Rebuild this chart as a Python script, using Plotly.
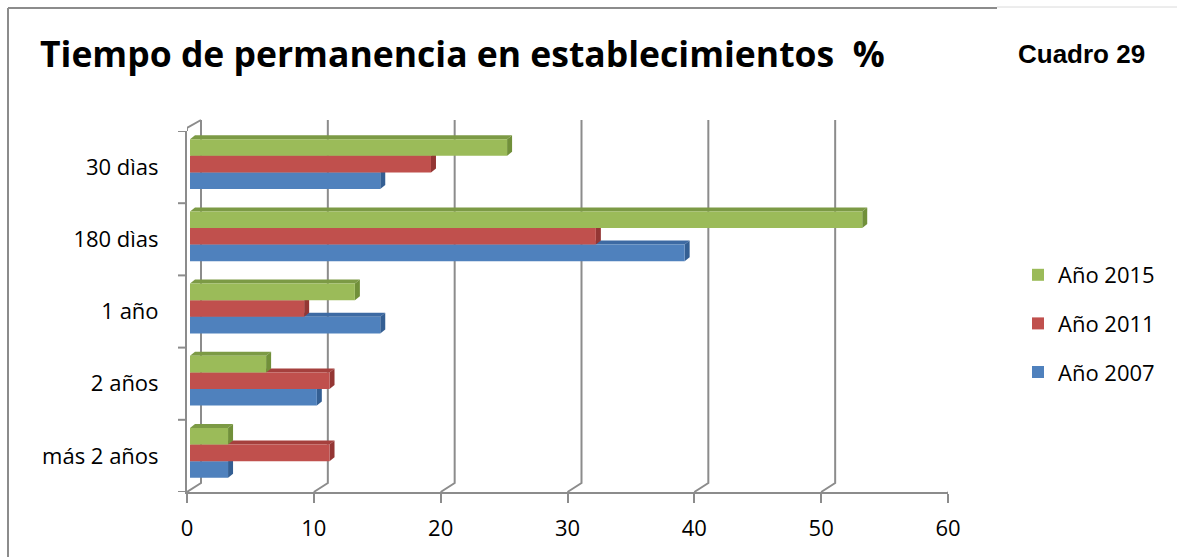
import plotly.graph_objects as go

categories = ["30 dìas", "180 dìas", "1 año", "2 años", "más 2 años"]
series_names = ["Año 2007", "Año 2011", "Año 2015"]
v2007 = [15, 39, 15, 10, 3]
v2011 = [19, 32, 9, 11, 11]
v2015 = [25, 53, 13, 6, 3]
x_ticks = [0, 10, 20, 30, 40, 50, 60]

colors = ["#4F81BD", "#C0504D", "#9BBB59"]
side_colors = ["#345F93", "#943634", "#71903A"]
top_colors = ["#3D6AA3", "#A5403D", "#7C9A45"]

W, H = 1177, 557
L, R, T, B = 187, 948, 131, 492
XMAX = 60
px_per_unit = (R - L) / XMAX
ncat = len(categories)
px_per_cat = (B - T) / ncat


def pxx(p):
    return (p - L) / (R - L)


def pxy(p):
    return (B - p) / (B - T)


order = list(reversed(categories))  # bottom to top
pos = {c: order.index(c) for c in categories}

bargap = 0.31
bw = (1 - bargap) / 3
lift = 3 / px_per_cat      # bars sit slightly back in depth
shift = 3 / px_per_unit

fig = go.Figure()
series = [v2007, v2011, v2015]
for j, (name, vals) in enumerate(zip(series_names, series)):
    fig.add_trace(go.Bar(
        y=[pos[c] + lift for c in categories], x=vals, base=shift, orientation="h", name=name,
        marker=dict(color=colors[j], line=dict(width=0)),
        width=bw, offset=-1.5 * bw + j * bw,
        legendgroup=name, legendrank=10 - j,
    ))

shapes = []
grid_col = "#8C8C8C"
gdx = 14 / px_per_unit
gdy_paper = pxy(483)
top_paper = pxy(120)
for t in x_ticks:
    shapes.append(dict(type="path", xref="x", yref="paper",
                       path=f"M {t},0 L {t+gdx},{gdy_paper} L {t+gdx},{top_paper}",
                       line=dict(color=grid_col, width=2), layer="below"))
# top-left diagonal of front axis
shapes.append(dict(type="path", xref="x", yref="paper",
                   path=f"M 0,{pxy(128)} L 0,1 M 0,{pxy(128)} L {gdx},{top_paper}",
                   line=dict(color=grid_col, width=2), layer="below"))

# 3D faces of bars
dx = 5 / px_per_unit
dy = 4 / px_per_cat
for j, vals in enumerate(series):
    for c, v in zip(categories, vals):
        yc = pos[c] + lift - 1.5 * bw + j * bw + bw / 2
        y0, y1 = yc - bw / 2, yc + bw / 2
        x0, x1 = shift, v + shift
        shapes.append(dict(type="path", xref="x", yref="y",
                           path=f"M {x0},{y1} L {x0+dx},{y1+dy} L {x1+dx},{y1+dy} L {x1},{y1} Z",
                           fillcolor=top_colors[j], line=dict(width=0), layer="below"))
        shapes.append(dict(type="path", xref="x", yref="y",
                           path=f"M {x1},{y0} L {x1},{y1} L {x1+dx},{y1+dy} L {x1+dx},{y0+dy} Z",
                           fillcolor=side_colors[j], line=dict(width=0), layer="below"))

# frame
shapes.append(dict(type="line", xref="paper", yref="paper",
                   x0=pxx(8), x1=pxx(8), y0=pxy(8), y1=pxy(560),
                   line=dict(color="#8C8C8C", width=2)))
shapes.append(dict(type="line", xref="paper", yref="paper",
                   x0=pxx(8), x1=pxx(997), y0=pxy(8), y1=pxy(8),
                   line=dict(color="#8C8C8C", width=2)))
shapes.append(dict(type="line", xref="paper", yref="paper",
                   x0=pxx(997), x1=pxx(1177), y0=pxy(7), y1=pxy(7),
                   line=dict(color="#DADADA", width=1)))

fig.update_layout(
    width=W, height=H,
    margin=dict(l=L, r=W - R, t=T, b=H - B),
    paper_bgcolor="white", plot_bgcolor="white",
    barmode="overlay",
    shapes=shapes,
    font=dict(family="Open Sans", size=22, color="#000000"),
    showlegend=True,
    legend=dict(x=pxx(1018), y=pxy(254), xanchor="left", yanchor="top",
                traceorder="grouped", tracegroupgap=17,
                font=dict(size=22, family="Open Sans"), bgcolor="rgba(0,0,0,0)"),
    xaxis=dict(range=[0, XMAX], tickvals=x_ticks, showgrid=False, zeroline=False,
               showline=True, linecolor=grid_col, linewidth=2,
               ticks="outside", ticklen=9, tickcolor=grid_col, tickwidth=2,
               ticklabelstandoff=7,
               tickfont=dict(size=22), fixedrange=True),
    yaxis=dict(range=[-0.5, ncat - 0.5], tickvals=[pos[c] for c in categories],
               ticktext=categories, showgrid=False, zeroline=False,
               showline=True, linecolor=grid_col, linewidth=2,
               ticks="", ticklabelstandoff=22, tickfont=dict(size=22), fixedrange=True),
    annotations=[
        dict(text="<b>Tiempo de permanencia en establecimientos  %</b>",
             xref="paper", yref="paper", x=pxx(38), y=pxy(53),
             xanchor="left", yanchor="middle", showarrow=False,
             font=dict(size=35.5, family="Open Sans", color="#000000")),
        dict(text="<b>Cuadro 29</b>",
             xref="paper", yref="paper", x=pxx(1081), y=pxy(54),
             xanchor="center", yanchor="middle", showarrow=False,
             font=dict(size=26, family="Liberation Sans Narrow, Arial Narrow, Liberation Sans", color="#000000")),
    ],
)

# y-axis tick marks at category boundaries
for k in range(ncat + 1):
    fig.add_shape(type="line", xref="paper", yref="y",
                  x0=pxx(178), x1=0, y0=k - 0.5, y1=k - 0.5,
                  line=dict(color=grid_col, width=2))

fig.write_html("out.html")
